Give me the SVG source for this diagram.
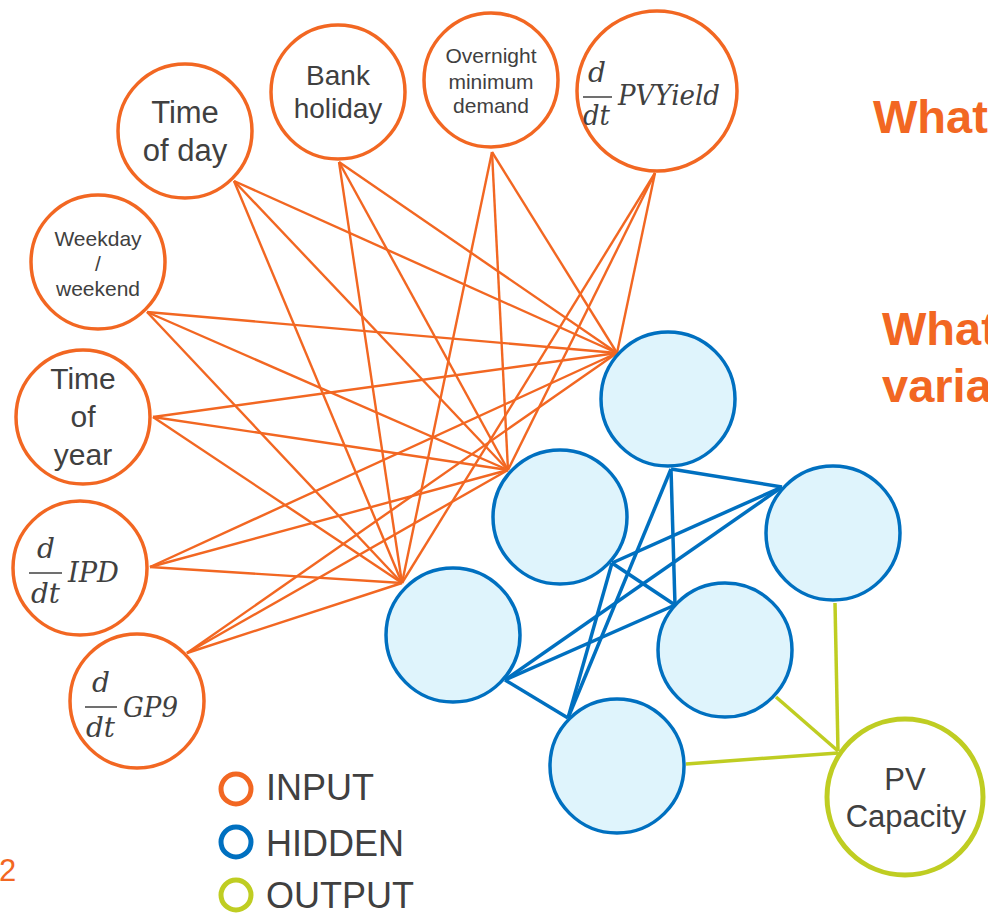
<svg xmlns="http://www.w3.org/2000/svg" width="988" height="915" viewBox="0 0 988 915">
<style>
.in{fill:#ffffff;stroke:#f26722;stroke-width:3.5}
.hid{fill:#dff4fc;stroke:#0070c0;stroke-width:3.5}
.out{fill:#ffffff;stroke:#bfcd22;stroke-width:5}
.ol{stroke:#f26722;stroke-width:2.4;fill:none}
.bl{stroke:#0070c0;stroke-width:3.5;fill:none}
.gl{stroke:#bfcd22;stroke-width:3.5;fill:none}
.t{font-family:"Liberation Sans",Arial,sans-serif;fill:#404040;text-anchor:middle}
.m{font-family:"DejaVu Serif","Liberation Serif",serif;font-style:italic;font-size:28px;fill:#404040}
.bar{stroke:#404040;stroke-width:1.5}
.lg{font-family:"Liberation Sans",Arial,sans-serif;fill:#404040;font-size:36px}
.hd{font-family:"Liberation Sans",Arial,sans-serif;fill:#f26722;font-weight:bold;font-size:47px}
</style>
<g id="connectors">
  <g id="input-hidden">
    <line class="ol" x1="234" y1="181" x2="617" y2="353"/>
    <line class="ol" x1="234" y1="181" x2="508" y2="470"/>
    <line class="ol" x1="234" y1="181" x2="402" y2="583"/>
    <line class="ol" x1="339" y1="162" x2="617" y2="353"/>
    <line class="ol" x1="339" y1="162" x2="508" y2="470"/>
    <line class="ol" x1="339" y1="162" x2="402" y2="583"/>
    <line class="ol" x1="492" y1="152" x2="617" y2="353"/>
    <line class="ol" x1="492" y1="152" x2="508" y2="470"/>
    <line class="ol" x1="492" y1="152" x2="402" y2="583"/>
    <line class="ol" x1="655" y1="173" x2="617" y2="353"/>
    <line class="ol" x1="655" y1="173" x2="508" y2="470"/>
    <line class="ol" x1="655" y1="173" x2="402" y2="583"/>
    <line class="ol" x1="147" y1="312" x2="617" y2="353"/>
    <line class="ol" x1="147" y1="312" x2="508" y2="470"/>
    <line class="ol" x1="147" y1="312" x2="402" y2="583"/>
    <line class="ol" x1="153" y1="417" x2="617" y2="353"/>
    <line class="ol" x1="153" y1="417" x2="508" y2="470"/>
    <line class="ol" x1="153" y1="417" x2="402" y2="583"/>
    <line class="ol" x1="150" y1="567" x2="617" y2="353"/>
    <line class="ol" x1="150" y1="567" x2="508" y2="470"/>
    <line class="ol" x1="150" y1="567" x2="402" y2="583"/>
    <line class="ol" x1="187" y1="653" x2="617" y2="353"/>
    <line class="ol" x1="187" y1="653" x2="508" y2="470"/>
    <line class="ol" x1="187" y1="653" x2="402" y2="583"/>
  </g>
  <g id="hidden-hidden">
    <line class="bl" x1="671" y1="469" x2="782" y2="487"/>
    <line class="bl" x1="671" y1="469" x2="675" y2="605"/>
    <line class="bl" x1="671" y1="469" x2="568" y2="718"/>
    <line class="bl" x1="782" y1="487" x2="612" y2="563"/>
    <line class="bl" x1="782" y1="487" x2="505" y2="680"/>
    <line class="bl" x1="612" y1="563" x2="675" y2="605"/>
    <line class="bl" x1="612" y1="563" x2="568" y2="718"/>
    <line class="bl" x1="675" y1="605" x2="505" y2="680"/>
    <line class="bl" x1="505" y1="680" x2="568" y2="718"/>
  </g>
  <g id="hidden-output">
    <line class="gl" x1="835" y1="603" x2="838" y2="751"/>
    <line class="gl" x1="776" y1="697" x2="838" y2="751"/>
    <line class="gl" x1="686" y1="764" x2="838" y2="753"/>
  </g>
</g>
<g id="node-time-of-day">
  <circle class="in" cx="185" cy="131" r="67"/>
  <text class="t" font-size="31" x="185" y="123">Time</text>
  <text class="t" font-size="31" x="185" y="161">of day</text>
</g>
<g id="node-bank-holiday">
  <circle class="in" cx="338" cy="92" r="67"/>
  <text class="t" font-size="28" x="338" y="85">Bank</text>
  <text class="t" font-size="28" x="338" y="118">holiday</text>
</g>
<g id="node-overnight">
  <circle class="in" cx="491" cy="80" r="67"/>
  <text class="t" font-size="21" x="491" y="63">Overnight</text>
  <text class="t" font-size="21" x="491" y="89">minimum</text>
  <text class="t" font-size="21" x="491" y="113">demand</text>
</g>
<g id="node-pvyield">
  <circle class="in" cx="657" cy="91" r="80"/>
  <text class="m" x="588" y="82">d</text>
  <line class="bar" x1="583" y1="97" x2="612" y2="97"/>
  <text class="m" x="583" y="125" textLength="27" lengthAdjust="spacingAndGlyphs">dt</text>
  <text class="m" x="618" y="105" textLength="102" lengthAdjust="spacingAndGlyphs">PVYield</text>
</g>
<g id="node-weekday">
  <circle class="in" cx="98" cy="262" r="67"/>
  <text class="t" font-size="21" x="98" y="246">Weekday</text>
  <text class="t" font-size="21" x="98" y="271">/</text>
  <text class="t" font-size="21" x="98" y="296">weekend</text>
</g>
<g id="node-time-of-year">
  <circle class="in" cx="83" cy="417" r="67"/>
  <text class="t" font-size="30" x="83" y="389">Time</text>
  <text class="t" font-size="30" x="83" y="427">of</text>
  <text class="t" font-size="30" x="83" y="465">year</text>
</g>
<g id="node-ipd">
  <circle class="in" cx="80" cy="568" r="67"/>
  <text class="m" x="37" y="558">d</text>
  <line class="bar" x1="29" y1="573" x2="62" y2="573"/>
  <text class="m" x="31" y="603" textLength="29" lengthAdjust="spacingAndGlyphs">dt</text>
  <text class="m" x="68" y="582" textLength="51" lengthAdjust="spacingAndGlyphs">IPD</text>
</g>
<g id="node-gp9">
  <circle class="in" cx="137" cy="701" r="67"/>
  <text class="m" x="92" y="692">d</text>
  <line class="bar" x1="85" y1="707" x2="117" y2="707"/>
  <text class="m" x="86" y="737" textLength="29" lengthAdjust="spacingAndGlyphs">dt</text>
  <text class="m" x="123" y="717" textLength="55" lengthAdjust="spacingAndGlyphs">GP9</text>
</g>
<g id="node-hidden-1"><circle class="hid" cx="668" cy="399" r="67"/></g>
<g id="node-hidden-2"><circle class="hid" cx="560" cy="517" r="67"/></g>
<g id="node-hidden-3"><circle class="hid" cx="453" cy="635" r="67"/></g>
<g id="node-hidden-4"><circle class="hid" cx="833" cy="533" r="67"/></g>
<g id="node-hidden-5"><circle class="hid" cx="725" cy="650" r="67"/></g>
<g id="node-hidden-6"><circle class="hid" cx="617" cy="766" r="67"/></g>
<g id="node-pv-capacity">
  <circle class="out" cx="905" cy="797" r="78"/>
  <text class="t" font-size="31" x="905" y="790">PV</text>
  <text class="t" font-size="31" x="906" y="827">Capacity</text>
</g>
<g id="legend">
  <circle cx="236" cy="789" r="15" fill="none" stroke="#f26722" stroke-width="5"/>
  <text class="lg" x="266" y="800">INPUT</text>
  <circle cx="236" cy="842" r="15" fill="none" stroke="#0070c0" stroke-width="5"/>
  <text class="lg" x="266" y="856">HIDDEN</text>
  <circle cx="236" cy="895" r="15" fill="none" stroke="#bfcd22" stroke-width="5"/>
  <text class="lg" x="266" y="908">OUTPUT</text>
</g>
<text x="-1" y="881" font-family="Liberation Sans, Arial, sans-serif" font-size="31" fill="#f26722">2</text>
<text class="hd" x="873" y="133">What</text>
<text class="hd" x="882" y="345">What</text>
<text class="hd" x="882" y="402">varia</text>
</svg>
